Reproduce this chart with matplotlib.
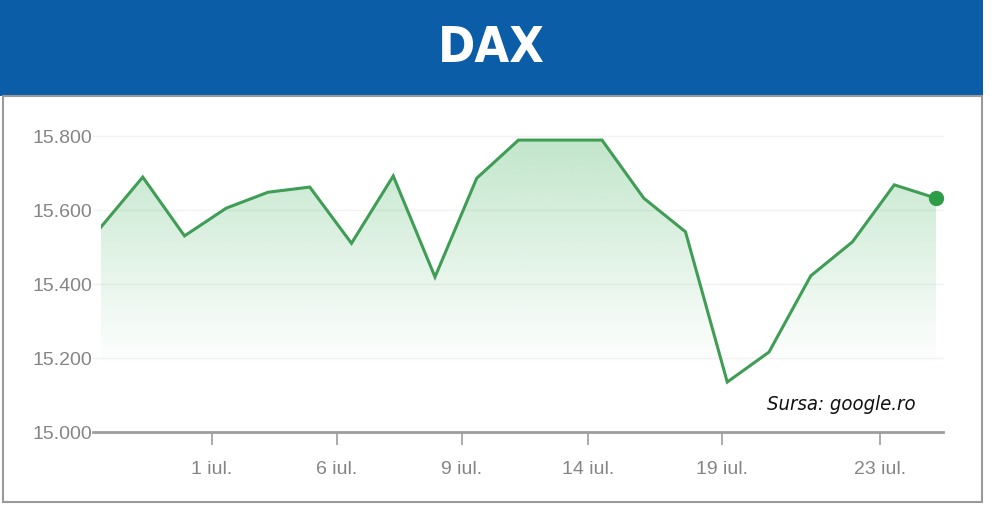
import matplotlib
matplotlib.use("Agg")
import matplotlib.pyplot as plt
from matplotlib.patches import Rectangle
import numpy as np

# DAX closing values, one per trading day
dax_values = [15554, 15689, 15530, 15605, 15648, 15662, 15510, 15692, 15419, 15686,
              15789, 15789, 15789, 15632, 15541, 15135, 15216, 15422, 15514, 15668, 15632]
day_index = np.arange(len(dax_values))

# x tick labels and where they sit between the trading days
xtick_pos = [2.66, 5.65, 8.64, 11.66, 14.87, 18.66]
xtick_labels = ["1 iul.", "6 iul.", "9 iul.", "14 iul.", "19 iul.", "23 iul."]
ytick_vals = [15000, 15200, 15400, 15600, 15800]
ytick_labels = ["15.000", "15.200", "15.400", "15.600", "15.800"]

title = "DAX"
source = "Sursa: google.ro"

line_col = "#3f9d55"
label_col = "#858585"

W, H = 1000, 506
fig = plt.figure(figsize=(W / 100, H / 100), dpi=100)
fig.patch.set_facecolor("white")

# ---------------- header + card border ----------------
fig.patches.append(Rectangle((0, 1 - 97 / H), 983 / W, 97 / H, transform=fig.transFigure,
                             facecolor="#0a5da6", edgecolor="none", zorder=0))
fig.patches.append(Rectangle((2.5 / W, 3 / H), 979 / W, (503 - 97) / H, transform=fig.transFigure,
                             facecolor="none", edgecolor="#9a9a9a", linewidth=1.5, zorder=0))
fig.text(491 / W, 1 - 48 / H, title, color="white", fontsize=36, fontweight="bold",
         family="DejaVu Sans", stretch="condensed", ha="center", va="center")

# ---------------- plot area ----------------
x0, x1 = 101, 936
ybot, ytop = 433, 118.5
ax = fig.add_axes([x0 / W, 1 - ybot / H, (x1 - x0) / W, (ybot - ytop) / H])
ax.set_xlim(0, len(dax_values) - 1)
ax.set_ylim(15000, 15850)
ax.set_facecolor("none")
for s in ax.spines.values():
    s.set_visible(False)

# faint gridlines and the base axis line, slightly wider than the data
ext0 = (93 - x0) / (x1 - x0)
ext1 = (943 - x0) / (x1 - x0)
for v in ytick_vals[1:]:
    ax.axhline(v, xmin=ext0, xmax=ext1, color="#f2f2f2", lw=1, zorder=1, clip_on=False)
ax.axhline(15000, xmin=ext0, xmax=ext1, color="#9d9d9d", lw=2, zorder=4, clip_on=False)

# gradient fill under the line
poly = ax.fill_between(day_index, dax_values, 15000, color="none", lw=0)
grad = np.zeros((256, 1, 4))
grad[:, 0, 0] = 60 / 255
grad[:, 0, 1] = 175 / 255
grad[:, 0, 2] = 90 / 255
yy = np.linspace(15000, 15850, 256)
grad[:, 0, 3] = np.clip((yy - 15180) / (15800 - 15180), 0, 1) * 0.32
img = ax.imshow(grad, aspect="auto", origin="lower", extent=[0, len(dax_values) - 1, 15000, 15850],
                zorder=2, interpolation="bilinear")
img.set_clip_path(poly.get_paths()[0], transform=ax.transData)

ax.plot(day_index, dax_values, color=line_col, lw=2.2, zorder=3, solid_joinstyle="miter")
ax.plot(day_index[-1], dax_values[-1], "o", color="#2f9d47", ms=10, zorder=5, clip_on=False)

# ticks
ax.set_yticks(ytick_vals)
ax.set_yticklabels(ytick_labels, family="Liberation Sans", fontsize=14, color=label_col)
ax.tick_params(axis="y", length=0, pad=6)
ax.set_xticks(xtick_pos)
ax.set_xticklabels(xtick_labels, family="Liberation Sans", fontsize=14, color=label_col)
ax.tick_params(axis="x", length=9, width=1.2, color="#9d9d9d", pad=11, direction="out")

fig.text(916 / W, 1 - 405 / H, source, color="#111111", fontsize=14.5, style="italic",
         family="DejaVu Sans", stretch="condensed", ha="right", va="center")

fig.savefig("out.png", dpi=100, facecolor="white")
